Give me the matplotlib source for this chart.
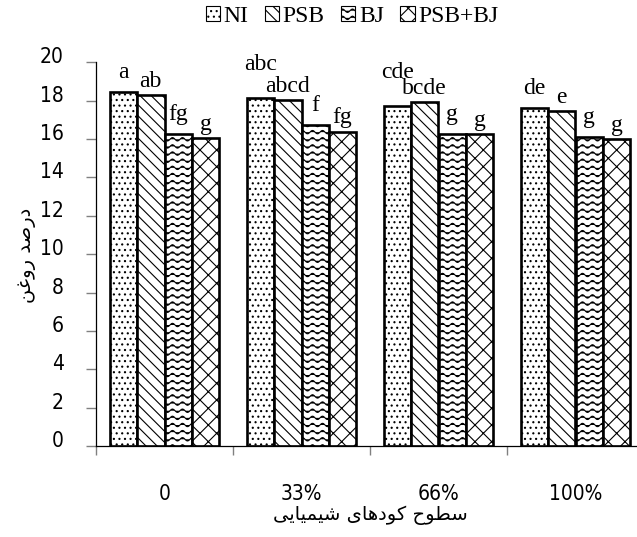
import warnings
import numpy as np
import matplotlib
matplotlib.use('Agg')
import matplotlib.pyplot as plt
from matplotlib import hatch as mhatch
from matplotlib.path import Path
from matplotlib.patches import Patch
from matplotlib.transforms import ScaledTranslation
from matplotlib.font_manager import FontProperties

warnings.filterwarnings('ignore')

# data
categories = ['0', '33%', '66%', '100%']
series = ['NI', 'PSB', 'BJ', 'PSB+BJ']
ni = [18.47, 18.13, 17.74, 17.61]
psb = [18.30, 18.04, 17.92, 17.47]
bj = [16.27, 16.74, 16.25, 16.09]
psb_bj = [16.04, 16.38, 16.25, 15.99]
letters_ni = ['a', 'abc', 'cde', 'de']
letters_psb = ['ab', 'abcd', 'bcde', 'e']
letters_bj = ['fg', 'f', 'g', 'g']
letters_psb_bj = ['g', 'fg', 'g', 'g']
yticks = [0, 2, 4, 6, 8, 10, 12, 14, 16, 18, 20]
ylabel = 'درصد روغن'
xlabel = 'سطوح کودهای شیمیایی'

hatches = ['...', '\\\\\\', '~~', 'xx']


class WaveHatch(mhatch.HatchPatternBase):
    # horizontal wavy lines, used with '~'
    def __init__(self, hatch, density):
        self.num_lines = int(hatch.count('~') * density * 1.2)
        self.num_pts = 100
        self.num_vertices = self.num_lines * self.num_pts

    def set_vertices_and_codes(self, vertices, codes):
        n = self.num_pts
        t = np.linspace(0, 1, n)
        step = 1.0 / self.num_lines
        for i in range(self.num_lines):
            k = i * n
            vertices[k:k + n, 0] = t
            vertices[k:k + n, 1] = (i + 0.5) * step + 0.017 * np.sin(2 * np.pi * 10 * t)
            codes[k] = Path.MOVETO
            codes[k + 1:k + n] = Path.LINETO


mhatch._hatch_types.append(WaveHatch)

FORMS = {
    'ا': (0xFE8D, 0xFE8E, None, None),
    'د': (0xFEA9, 0xFEAA, None, None),
    'ر': (0xFEAD, 0xFEAE, None, None),
    'و': (0xFEED, 0xFEEE, None, None),
    'ص': (0xFEB9, 0xFEBA, 0xFEBB, 0xFEBC),
    'غ': (0xFECD, 0xFECE, 0xFECF, 0xFED0),
    'ن': (0xFEE5, 0xFEE6, 0xFEE7, 0xFEE8),
    'س': (0xFEB1, 0xFEB2, 0xFEB3, 0xFEB4),
    'ط': (0xFEC1, 0xFEC2, 0xFEC3, 0xFEC4),
    'ح': (0xFEA1, 0xFEA2, 0xFEA3, 0xFEA4),
    'ش': (0xFEB5, 0xFEB6, 0xFEB7, 0xFEB8),
    'م': (0xFEE1, 0xFEE2, 0xFEE3, 0xFEE4),
    'ه': (0xFEE9, 0xFEEA, 0xFEEB, 0xFEEC),
    'ک': (0xFB8E, 0xFB8F, 0xFB90, 0xFB91),
    'ی': (0xFBFC, 0xFBFD, 0xFBFE, 0xFBFF),
}


def shape(text):
    # join persian letters and put them in visual order
    out = []
    for i, ch in enumerate(text):
        if ch not in FORMS:
            out.append(ch)
            continue
        prev = text[i - 1] if i > 0 else ''
        nxt = text[i + 1] if i + 1 < len(text) else ''
        jp = prev in FORMS and FORMS[prev][2] is not None
        jn = FORMS[ch][2] is not None and nxt in FORMS
        iso, fin, ini, med = FORMS[ch]
        if jp and jn:
            c = med
        elif jp:
            c = fin
        elif jn:
            c = ini
        else:
            c = iso
        out.append(chr(c))
    return ''.join(reversed(out))


plt.rcParams['hatch.linewidth'] = 0.8
serif = ['Liberation Serif', 'DejaVu Serif']
narrow = FontProperties(family='DejaVu Sans', stretch='condensed', size=15)

fig = plt.figure(figsize=(6.37, 5.37), dpi=100)
ax = fig.add_axes([96 / 637, 1 - 446 / 537, 548 / 637, 383.7 / 537])

x = np.arange(len(categories))
w = 0.2
offsets = [-0.3, -0.1, 0.1, 0.3]
values = [ni, psb, bj, psb_bj]
letters = [letters_ni, letters_psb, letters_bj, letters_psb_bj]

for vals, off, h in zip(values, offsets, hatches):
    ax.bar(x + off, vals, w, facecolor='white', edgecolor='black',
           linewidth=1.9, hatch=h)

for s, (vals, labs, off) in enumerate(zip(values, letters, offsets)):
    for g in range(len(categories)):
        dy = 6
        if s in (0, 2):
            nb = letters[s + 1][g]
            if (len(labs[g]) + len(nb)) * 5.5 > 27:
                dy += 14
            else:
                dy += 4
        ax.annotate(labs[g], (x[g] + off, vals[g]), xytext=(0, dy),
                    textcoords='offset points', ha='center', va='baseline',
                    fontsize=17, family=serif)

ax.set_xlim(-0.5, 3.5)
ax.set_ylim(0, 20)
ax.set_yticks(yticks)
ax.set_xticks(np.arange(-0.5, 3.6, 1.0))
ax.set_xticklabels([])
ax.set_xticks(x, categories, minor=True)
ax.tick_params(axis='x', which='major', direction='out', length=6.5,
               color='#808080', width=1)
ax.tick_params(axis='x', which='minor', length=0, pad=27)
ax.tick_params(axis='y', direction='out', length=7.2, color='#808080',
               width=1, pad=16)
for lab in ax.get_xticklabels(minor=True) + ax.get_yticklabels():
    lab.set_fontproperties(narrow)
for lab in ax.get_yticklabels():
    lab.set_transform(lab.get_transform() +
                      ScaledTranslation(0, 0.07, fig.dpi_scale_trans))

for side in ('top', 'right'):
    ax.spines[side].set_visible(False)
for side in ('left', 'bottom'):
    ax.spines[side].set_linewidth(0.9)
    ax.spines[side].set_color('black')

fig.text(27 / 637, 1 - 255 / 537, shape(ylabel), rotation=90, ha='center',
         va='center', fontsize=14, family='DejaVu Sans')
fig.text(370 / 637, 1 - 515 / 537, shape(xlabel), ha='center', va='center',
         fontsize=14, family='DejaVu Sans')

handles = [Patch(facecolor='white', edgecolor='black', linewidth=0.8, hatch=h)
           for h in hatches]
fig.legend(handles, series, loc='center', bbox_to_anchor=(352 / 637, 1 - 16 / 537),
           ncol=4, frameon=False, handlelength=0.6, handleheight=0.6,
           handletextpad=0.15, columnspacing=0.7,
           prop={'family': serif, 'size': 17})

fig.savefig('out.png', dpi=100)
